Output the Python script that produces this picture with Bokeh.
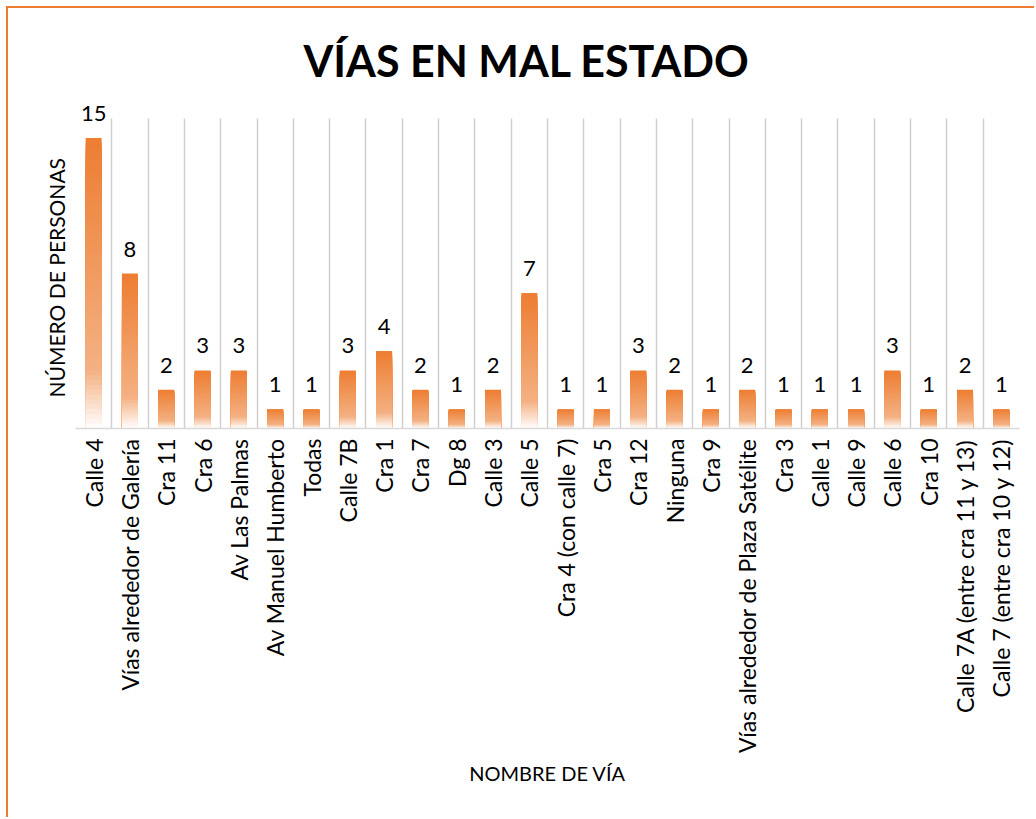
from math import pi
from bokeh.plotting import figure
from bokeh.models import ColumnDataSource, FixedTicker, LabelSet, Range1d, Title
from bokeh.core.properties import value
from bokeh.embed import file_html
from bokeh.resources import INLINE

categories = [
    "Calle 4", "Vías alrededor de Galería", "Cra 11", "Cra 6", "Av Las Palmas",
    "Av Manuel Humberto", "Todas", "Calle 7B", "Cra 1", "Cra 7", "Dg 8", "Calle 3",
    "Calle 5", "Cra 4 (con calle 7)", "Cra 5", "Cra 12", "Ninguna", "Cra 9",
    "Vías alrededor de Plaza Satélite", "Cra 3", "Calle 1", "Calle 9", "Calle 6",
    "Cra 10", "Calle 7A (entre cra 11 y 13)", "Calle 7 (entre cra 10 y 12)",
]
values = [15, 8, 2, 3, 3, 1, 1, 3, 4, 2, 1, 2, 7, 1, 1, 3, 2, 1, 2, 1, 1, 1, 3, 1, 2, 1]
axis_max = 16

title_text = "VÍAS EN MAL ESTADO"
x_label = "NOMBRE DE VÍA"
y_label = "NÚMERO DE PERSONAS"

ORANGE = "#ED7D31"
STOPS = [(0.0, (0xED, 0x7D, 0x31)), (0.80, (0xF4, 0xB1, 0x83)), (1.0, (0xFF, 0xFF, 0xFF))]


def grad(t):
    for (t0, c0), (t1, c1) in zip(STOPS[:-1], STOPS[1:]):
        if t <= t1:
            f = (t - t0) / (t1 - t0)
            return "#%02x%02x%02x" % tuple(int(round(a + (b - a) * f)) for a, b in zip(c0, c1))
    return "#ffffff"


N = 60
bx, btop, bcol = [], [], []
for i, v in enumerate(values):
    for k in range(N):
        bx.append(i + 0.5)
        btop.append(v * (1 - k / N))
        bcol.append(grad((k + 0.5) / N))
bars = ColumnDataSource(dict(x=bx, top=btop, color=bcol))

labels_src = ColumnDataSource(dict(
    x=[i + 0.5 for i in range(len(values))],
    y=values,
    text=[str(v) for v in values],
))

OFF = 8
W, H = 1036 - OFF, 819 - OFF
FL, FR, FT, FB = 75 - OFF, 1019 - OFF, 89 - OFF, 428 - OFF

p = figure(width=W, height=H, output_backend="svg", toolbar_location=None,
           x_range=Range1d(0, len(categories)), y_range=Range1d(0, 17.5),
           min_border_left=FL, min_border_right=W - FR,
           min_border_top=FT, min_border_bottom=H - FB)
p.styles = {"border-left": "2px solid " + ORANGE, "border-top": "2px solid " + ORANGE,
            "margin-left": "6px", "margin-top": "6px"}
p.outline_line_color = None
p.background_fill_color = "white"
p.border_fill_color = "white"

p.title.text = title_text
p.title.align = "left"
p.title.offset = 228
p.title.text_font = "Lato"
p.title.text_font_size = "43px"
p.title.text_font_style = "bold"
p.title.text_color = "black"
p.title.standoff = 8

p.vbar(x="x", top="top", bottom=0, width=0.44, source=bars,
       fill_color="color", line_color=None)

p.add_layout(LabelSet(x="x", y="y", text="text", source=labels_src,
                      text_align="center", text_baseline="alphabetic", y_offset=17,
                      text_font=value("Lato"), text_font_size=value("22px"),
                      text_color="#000000"))

# x axis
xa = p.xaxis[0]
xa.ticker = FixedTicker(ticks=[i + 0.5 for i in range(len(categories))])
xa.major_label_overrides = {i + 0.5: c for i, c in enumerate(categories)}
xa.major_label_orientation = pi / 2
xa.major_label_text_font = "Lato"
xa.major_label_text_font_size = "23px"
xa.major_label_text_color = "black"
xa.major_label_standoff = 10
xa.major_tick_line_color = None
xa.minor_tick_line_color = None
xa.major_tick_out = 0
xa.axis_line_color = "#D9D9D9"
xa.axis_line_width = 1.5
xa.axis_label = x_label
xa.axis_label_text_font = "Lato"
xa.axis_label_text_font_size = "20px"
xa.axis_label_text_font_style = "normal"
xa.axis_label_text_color = "black"
xa.axis_label_standoff = 5

# y axis: hidden; its label is a left-side title centred on the 0..axis_max span
p.yaxis.visible = False
p.add_layout(Title(text=y_label, align="left", offset=31, standoff=14,
                   text_font="Lato", text_font_size="21px", text_font_style="normal",
                   text_color="black"), "left")

p.ygrid.grid_line_color = None
p.xgrid.ticker = FixedTicker(ticks=list(range(len(categories) + 1)))
p.xgrid.cross_bounds = (0, axis_max)
p.xgrid.grid_line_color = "#D0D0D0"
p.xgrid.grid_line_width = 1.5

open("out.html", "w").write(file_html(p, INLINE))
